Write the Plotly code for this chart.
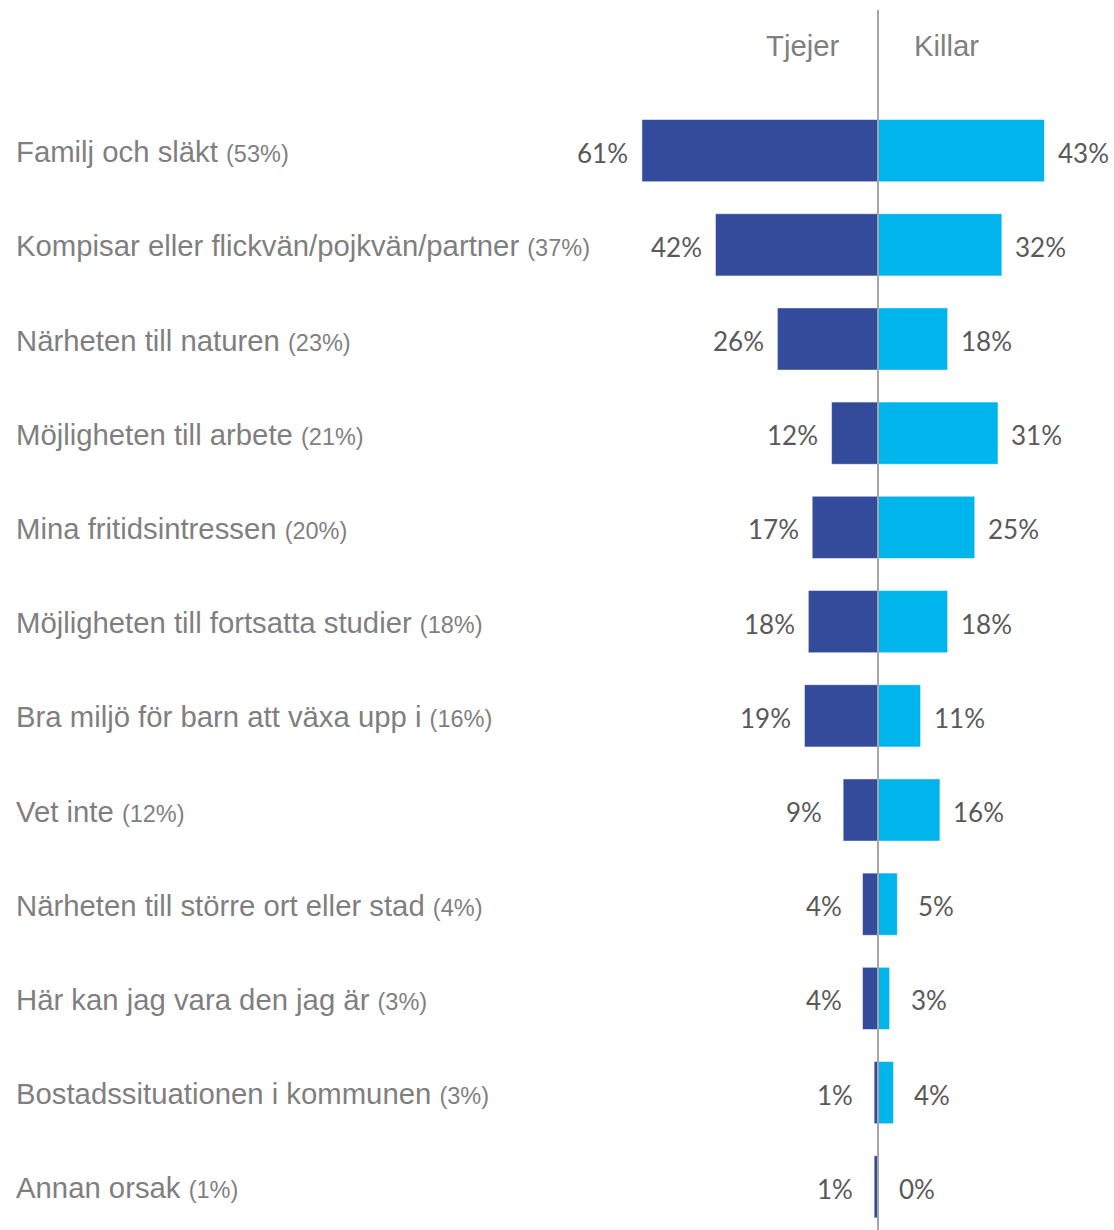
import plotly.graph_objects as go

# Reasons, share for all respondents, and split by gender (percent)
categories = [
    "Familj och släkt",
    "Kompisar eller flickvän/pojkvän/partner",
    "Närheten till naturen",
    "Möjligheten till arbete",
    "Mina fritidsintressen",
    "Möjligheten till fortsatta studier",
    "Bra miljö för barn att växa upp i",
    "Vet inte",
    "Närheten till större ort eller stad",
    "Här kan jag vara den jag är",
    "Bostadssituationen i kommunen",
    "Annan orsak",
]
totals = [53, 37, 23, 21, 20, 18, 16, 12, 4, 3, 3, 1]
tjejer = [61, 42, 26, 12, 17, 18, 19, 9, 4, 4, 1, 1]
killar = [43, 32, 18, 31, 25, 18, 11, 16, 5, 3, 4, 0]
series_names = ["Tjejer", "Killar"]

W, H = 1114, 1230
CENTER_PX = 878
PX_PER_PCT = 3.87
ROW_PX = 94.2
FIRST_ROW_PX = 150.6

DARK = "#344A9A"
LIGHT = "#00B4EC"
LABEL_GRAY = "#7F7F7F"
VALUE_GRAY = "#595959"
LABEL_FONT = "Liberation Sans"
VALUE_FONT = "Lato"

idx = list(range(len(categories)))

fig = go.Figure()
fig.add_trace(go.Bar(
    y=idx, x=[-v for v in tjejer], orientation="h", width=0.66,
    marker=dict(color=DARK, line=dict(color="white", width=0.5)),
    name=series_names[0], hoverinfo="skip",
))
fig.add_trace(go.Bar(
    y=idx, x=killar, orientation="h", width=0.66,
    marker=dict(color=LIGHT, line=dict(color="white", width=0.5)),
    name=series_names[1], hoverinfo="skip",
))

annotations = []
for i, (cat, tot, t, k) in enumerate(zip(categories, totals, tjejer, killar)):
    annotations.append(dict(
        x=0, xref="paper", xshift=14, xanchor="left",
        y=i, yref="y", yanchor="middle", yshift=-1,
        text=f"{cat} <span style='font-size:23.5px'>({tot}%)</span>",
        showarrow=False, font=dict(family=LABEL_FONT, size=29.3, color=LABEL_GRAY),
    ))
    annotations.append(dict(
        x=-t, xref="x", xshift=-39, xanchor="center",
        y=i, yref="y", yanchor="middle", yshift=-2, text=f"{t}%", showarrow=False,
        font=dict(family=VALUE_FONT, size=26, color=VALUE_GRAY),
    ))
    annotations.append(dict(
        x=k, xref="x", xshift=39, xanchor="center",
        y=i, yref="y", yanchor="middle", yshift=-2, text=f"{k}%", showarrow=False,
        font=dict(family=VALUE_FONT, size=26, color=VALUE_GRAY),
    ))

# Column headers either side of the centre line
annotations.append(dict(
    x=0, xref="x", xshift=-36, xanchor="right", y=1 - 46 / H, yref="paper", yanchor="middle",
    text=series_names[0], showarrow=False,
    font=dict(family=LABEL_FONT, size=29.3, color=LABEL_GRAY),
))
annotations.append(dict(
    x=0, xref="x", xshift=34, xanchor="left", y=1 - 46 / H, yref="paper", yanchor="middle",
    text=series_names[1], showarrow=False,
    font=dict(family=LABEL_FONT, size=29.3, color=LABEL_GRAY),
))

x_min = -CENTER_PX / PX_PER_PCT
x_max = (W - CENTER_PX) / PX_PER_PCT
y_top = -FIRST_ROW_PX / ROW_PX
y_bottom = (H - FIRST_ROW_PX) / ROW_PX

fig.update_layout(
    width=W, height=H,
    margin=dict(l=0, r=0, t=0, b=0),
    paper_bgcolor="white", plot_bgcolor="white",
    barmode="relative", showlegend=False,
    font=dict(family=LABEL_FONT),
    xaxis=dict(range=[x_min, x_max], visible=False, fixedrange=True),
    yaxis=dict(range=[y_bottom, y_top], visible=False, fixedrange=True),
    annotations=annotations,
    shapes=[dict(
        type="line", xref="x", yref="paper", x0=0, x1=0, y0=0, y1=1 - 10 / H,
        line=dict(color="#A6A6A6", width=2), layer="above",
    )],
)

fig.write_html("out.html")
